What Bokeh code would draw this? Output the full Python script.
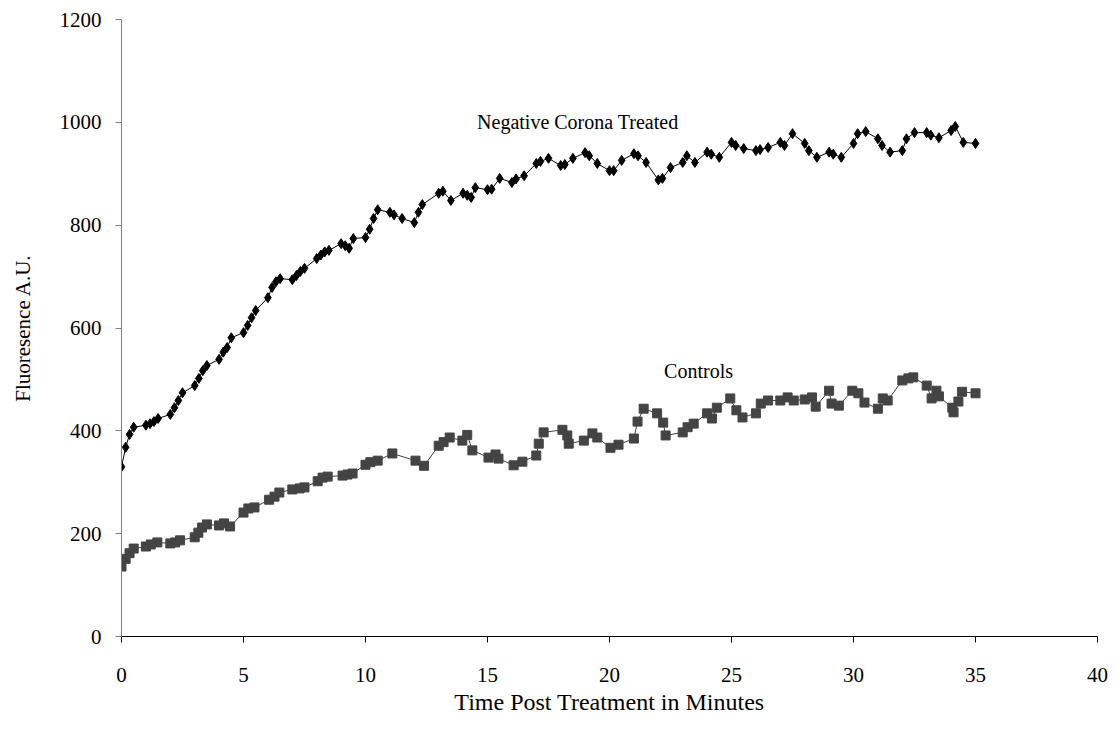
from bokeh.plotting import figure
from bokeh.models import Range1d, Label, FixedTicker
from bokeh.embed import file_html
from bokeh.resources import INLINE

# Negative Corona Treated (time in minutes, fluorescence A.U.)
treated_t = [0.0, 0.17, 0.33, 0.5, 1.0, 1.17, 1.33, 1.5, 2.0, 2.17, 2.33, 2.5,
             3.0, 3.17, 3.33, 3.5, 4.0, 4.17, 4.33, 4.5, 5.0, 5.17, 5.33, 5.5,
             6.0, 6.17, 6.33, 6.5, 7.0, 7.17, 7.33, 7.5, 8.0, 8.17, 8.33, 8.5,
             9.0, 9.17, 9.33, 9.5, 10.0, 10.17, 10.33, 10.5, 11.0, 11.17, 11.5,
             12.0, 12.17, 12.33, 13.0, 13.17, 13.5, 14.0, 14.17, 14.33, 14.5,
             15.0, 15.17, 15.5, 16.0, 16.17, 16.5, 17.0, 17.17, 17.5, 18.0, 18.17,
             18.5, 19.0, 19.17, 19.5, 20.0, 20.17, 20.5, 21.0, 21.17, 21.5, 22.0,
             22.17, 22.5, 23.0, 23.17, 23.5, 24.0, 24.17, 24.5, 25.0, 25.17, 25.5,
             26.0, 26.17, 26.5, 27.0, 27.17, 27.5, 28.0, 28.17, 28.5, 29.0, 29.17,
             29.5, 30.0, 30.17, 30.5, 31.0, 31.17, 31.5, 32.0, 32.17, 32.5, 33.0,
             33.17, 33.5, 34.0, 34.17, 34.5, 35.0]
treated_v = [330, 368, 393, 407, 411, 414, 418, 424, 432, 445, 459, 474,
             488, 502, 517, 527, 539, 553, 562, 581, 591, 605, 620, 634,
             659, 679, 690, 696, 694, 702, 710, 716, 735, 742, 748, 751,
             764, 760, 755, 774, 776, 792, 813, 830, 825, 820, 813,
             805, 825, 840, 862, 866, 848, 862, 858, 854, 873,
             869, 870, 891, 883, 890, 896, 920, 924, 930, 916, 918,
             930, 941, 935, 920, 906, 906, 926, 939, 935, 922, 888,
             891, 912, 922, 935, 922, 942, 938, 932, 961, 955, 949,
             945, 947, 951, 961, 955, 978, 959, 945, 932, 942, 938,
             932, 959, 978, 982, 968, 955, 942, 945, 968, 980, 980,
             975, 970, 984, 992, 961, 959]

# Controls
control_t = [0.0, 0.17, 0.33, 0.5, 1.0, 1.2, 1.47, 2.0, 2.2, 2.4, 3.0, 3.15,
             3.3, 3.5, 4.0, 4.2, 4.45, 5.0, 5.2, 5.45, 6.05, 6.27, 6.47, 7.0,
             7.3, 7.5, 8.04, 8.24, 8.45, 9.06, 9.26, 9.47, 10.0, 10.2, 10.5,
             11.1, 12.05, 12.4, 13.0, 13.2, 13.45, 13.97, 14.17, 14.38, 15.04,
             15.33, 15.45, 16.07, 16.43, 17.0, 17.1, 17.3, 18.07, 18.27, 18.33,
             18.95, 19.3, 19.5, 20.04, 20.37, 21.0, 21.15, 21.4, 21.95, 22.2,
             22.3, 23.0, 23.2, 23.45, 24.0, 24.2, 24.4, 24.95, 25.2, 25.45,
             26.0, 26.2, 26.5, 27.0, 27.3, 27.55, 28.0, 28.3, 28.45, 29.0,
             29.1, 29.4, 29.95, 30.2, 30.45, 31.0, 31.2, 31.4, 32.0, 32.25,
             32.45, 33.0, 33.2, 33.4, 33.5, 34.05, 34.1, 34.3, 34.45, 35.0]
control_v = [136, 151, 162, 171, 175, 179, 183, 181, 183, 187, 193, 202,
             212, 218, 216, 220, 214, 241, 249, 251, 266, 272, 280, 286,
             288, 290, 302, 309, 311, 313, 315, 317, 334, 339, 342,
             356, 342, 332, 371, 378, 387, 381, 392, 362, 348,
             354, 346, 333, 340, 352, 375, 397, 402, 391, 375,
             381, 395, 387, 367, 373, 385, 418, 443, 434, 416,
             391, 397, 407, 414, 434, 424, 445, 463, 440, 426,
             434, 453, 459, 459, 465, 459, 461, 465, 447, 478,
             453, 449, 478, 473, 455, 443, 463, 459, 498, 502,
             504, 488, 463, 478, 467, 445, 436, 457, 476, 473]

x_ticks = [0, 5, 10, 15, 20, 25, 30, 35, 40]
y_ticks = [0, 200, 400, 600, 800, 1000, 1200]

FONT = "Liberation Serif"

p = figure(width=1112, height=736, output_backend="svg", toolbar_location=None,
           x_range=Range1d(0, 40), y_range=Range1d(0, 1200),
           min_border_left=121, min_border_right=15, min_border_top=19,
           min_border_bottom=100)
p.outline_line_color = None
p.grid.visible = False
p.background_fill_color = "white"

p.xaxis.ticker = FixedTicker(ticks=x_ticks)
p.yaxis.ticker = FixedTicker(ticks=y_ticks)
for ax in (p.xaxis, p.yaxis):
    ax.minor_tick_line_color = None
    ax.major_tick_in = 0
    ax.major_tick_out = 6
    ax.major_label_text_font = FONT
    ax.major_label_text_font_size = "21px"
    ax.major_label_text_color = "black"
    ax.axis_label_text_font = FONT
    ax.axis_label_text_font_style = "normal"
    ax.axis_label_text_color = "black"

p.xaxis.axis_label_text_font_size = "24px"
p.yaxis.axis_label_text_font_size = "21px"
p.xaxis.axis_line_color = "black"
p.xaxis.major_tick_line_color = "black"
p.yaxis.axis_line_color = "#808080"
p.yaxis.major_tick_line_color = "#808080"
p.xaxis.major_label_standoff = 25
p.yaxis.major_label_standoff = 14
p.xaxis.axis_label = "Time Post Treatment in Minutes"
p.yaxis.axis_label = "Fluoresence A.U."
p.xaxis.axis_label_standoff = 4
p.yaxis.axis_label_standoff = 22

p.line(control_t, control_v, line_color="#404040", line_width=1)
p.scatter(control_t, control_v, marker="square", size=9,
          fill_color="#444444", line_color="#444444")

p.line(treated_t, treated_v, line_color="black", line_width=1)
p.scatter(treated_t, treated_v, marker="diamond", size=10,
          fill_color="black", line_color="black")

p.add_layout(Label(x=18.7, y=1001, text="Negative Corona Treated",
                   text_font=FONT, text_font_size="20px", text_color="black",
                   text_align="center", text_baseline="middle"))
p.add_layout(Label(x=23.65, y=517, text="Controls",
                   text_font=FONT, text_font_size="20px", text_color="black",
                   text_align="center", text_baseline="middle"))

open("out.html", "w").write(file_html(p, INLINE))
